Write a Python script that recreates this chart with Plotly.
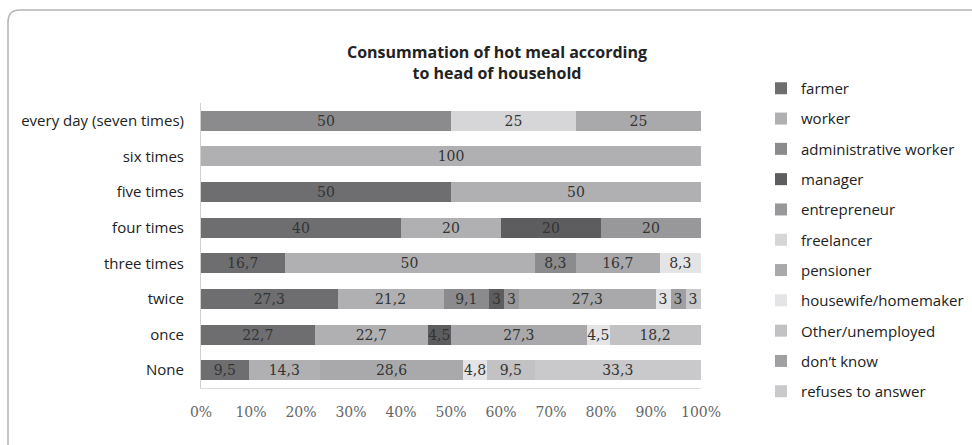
import plotly.graph_objects as go

# categories, top to bottom
frequency = ["every day (seven times)", "six times", "five times", "four times",
             "three times", "twice", "once", "None"]

# share of each head-of-household group (%) per frequency
farmer = [0, 0, 50, 40, 16.7, 27.3, 22.7, 9.5]
worker = [0, 100, 50, 20, 50, 21.2, 22.7, 14.3]
administrative_worker = [50, 0, 0, 0, 8.3, 9.1, 0, 0]
manager = [0, 0, 0, 20, 0, 3, 4.5, 0]
entrepreneur = [0, 0, 0, 20, 0, 3, 0, 0]
freelancer = [25, 0, 0, 0, 0, 0, 0, 0]
pensioner = [25, 0, 0, 0, 16.7, 27.3, 27.3, 28.6]
housewife = [0, 0, 0, 0, 8.3, 3, 4.5, 4.8]
other_unemployed = [0, 0, 0, 0, 0, 0, 18.2, 9.5]
dont_know = [0, 0, 0, 0, 0, 3, 0, 0]
refuses = [0, 0, 0, 0, 0, 3, 0, 33.3]

x_ticks = [0, 10, 20, 30, 40, 50, 60, 70, 80, 90, 100]

series = [
    ("farmer", farmer, "#6e6e70"),
    ("worker", worker, "#b0b0b2"),
    ("administrative worker", administrative_worker, "#8b8b8d"),
    ("manager", manager, "#5d5d5f"),
    ("entrepreneur", entrepreneur, "#98989a"),
    ("freelancer", freelancer, "#d6d6d8"),
    ("pensioner", pensioner, "#a9a9ab"),
    ("housewife/homemaker", housewife, "#e4e4e6"),
    ("Other/unemployed", other_unemployed, "#c2c2c4"),
    ("don\u2019t know", dont_know, "#a0a0a2"),
    ("refuses to answer", refuses, "#c9c9cb"),
]

W, H = 972, 445
L, R, T, B = 201, 271, 103, 57


def fmt(v):
    if v == 0:
        return ""
    return f"{v:g}".replace(".", ",")


fig = go.Figure()
for i, (name, vals, color) in enumerate(series):
    fig.add_trace(go.Bar(
        y=frequency,
        x=vals,
        name=name,
        orientation="h",
        marker=dict(color=color, line=dict(width=0)),
        text=[fmt(v) for v in vals],
        textposition="inside",
        insidetextanchor="middle",
        textangle=0,
        textfont=dict(family="DejaVu Serif", size=14, color="#333333"),
        legendgroup=f"g{i}",
    ))


# frame around the picture (only top-left corner visible)
def px(x):
    return (x - L) / (W - L - R)


def py(y):
    return (H - B - y) / (H - T - B)


frame = (f"M {px(8)},{py(446)} L {px(8)},{py(22)} "
         f"Q {px(8)},{py(10)} {px(20)},{py(10)} L {px(975)},{py(10)}")

fig.update_layout(
    width=W, height=H,
    margin=dict(l=L, r=R, t=T, b=B),
    barmode="stack",
    bargap=0.44,
    plot_bgcolor="white",
    paper_bgcolor="white",
    font=dict(family="Open Sans", size=15, color="#222222"),
    title=dict(
        text="<b>Consummation of hot meal according<br>to head of household</b>",
        x=497 / W, xref="container", xanchor="center",
        y=1 - 58 / H, yref="container", yanchor="top",
        font=dict(family="Open Sans", size=16, color="#222222"),
    ),
    legend=dict(
        x=761 / W, xref="container", xanchor="left",
        y=1 - 72 / H, yref="container", yanchor="top",
        font=dict(family="Open Sans", size=15, color="#222222"),
        tracegroupgap=7.8,
        itemwidth=30,
        traceorder="grouped",
        maxheight=1,
    ),
    uniformtext=dict(minsize=14, mode="show"),
    shapes=[dict(type="path", path=frame, xref="paper", yref="paper",
                 line=dict(color="#b4b4b4", width=1.5))],
)

fig.update_xaxes(
    range=[0, 100],
    tickvals=x_ticks,
    ticktext=[f"{t}%" for t in x_ticks],
    showgrid=False,
    zeroline=False,
    showline=True, linecolor="#dcdcdc", linewidth=1,
    ticks="",
    ticklabelstandoff=11,
    tickfont=dict(family="DejaVu Serif", size=14, color="#666666"),
)
fig.update_yaxes(
    autorange="reversed",
    showgrid=False,
    showline=True, linecolor="#d0d0d0", linewidth=1,
    ticks="",
    ticklabelstandoff=13,
    tickfont=dict(family="Open Sans", size=15, color="#222222"),
)

fig.write_html("out.html", config={"displayModeBar": False},
               post_script="document.body.style.margin = '0';")
